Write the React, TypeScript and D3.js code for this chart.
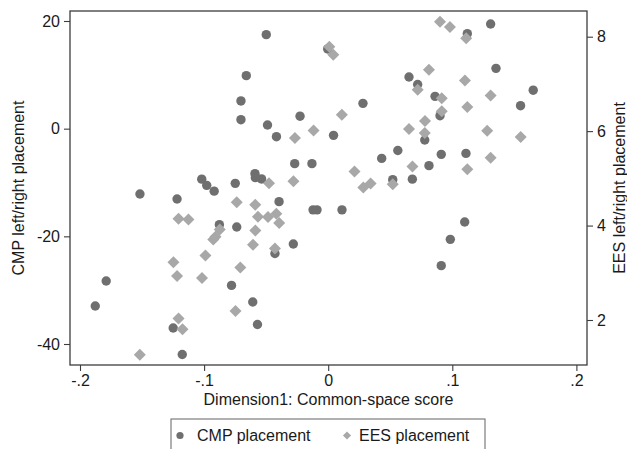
import { useEffect, useRef } from 'react';
import * as d3 from 'd3';

// CMP placements: common-space score and CMP left/right
const cmpScore = [
  -0.0499, -0.066, -0.0703, -0.0703, -0.0489, -0.0417, -0.0227, -0.027, -0.0131, -0.059,
  -0.0587, -0.0537, -0.0749, -0.1019, -0.0979, -0.0919, -0.1517, -0.1218, -0.0396, -0.0122,
  -0.009, 0.0111, -0.0877, -0.0737, -0.0429, -0.0281, -0.0779, -0.1789, -0.1877, -0.0608,
  -0.057, -0.1249, -0.1176, -0.0004, 0.1121, 0.1309, 0.1352, 0.0651, 0.0721, 0.1652,
  0.0861, 0.028, 0.155, 0.0901, 0.0043, 0.0778, 0.0431, 0.0561, 0.0911, 0.111,
  0.0812, 0.0678, 0.052, 0.11, 0.0984, 0.0911,
];
const cmpPlacement = [
  17.46, 9.85, 5.15, 1.67, 0.69, -1.49, 2.32, -6.5, -6.5, -8.36,
  -9.1, -9.34, -10.16, -9.38, -10.53, -11.61, -12.13, -13.06, -13.56, -15.08,
  -15.08, -15.08, -17.83, -18.26, -23.18, -21.42, -29.11, -28.29, -32.94, -32.19,
  -36.37, -37.02, -41.95, 14.81, 17.65, 19.45, 11.2, 9.6, 8.21, 7.15,
  6.0, 4.7, 4.27, 2.41, -1.24, -2.1, -5.52, -4.05, -4.77, -4.59,
  -6.87, -9.38, -9.47, -17.33, -20.56, -25.45,
];

// EES placements: common-space score and EES left/right
const eesScore = [
  0.0901, 0.0981, 0.1112, 0.0009, 0.0041, 0.0812, 0.1102, 0.0721, 0.1309, 0.0915,
  0.1121, 0.0915, 0.011, 0.078, 0.0651, 0.0778, 0.1281, 0.1551, -0.0118, -0.0268,
  0.1309, 0.0679, 0.1121, 0.0212, -0.028, -0.0477, 0.0283, 0.0342, 0.052, -0.0737,
  -0.0588, -0.1206, -0.1126, -0.0566, -0.0485, -0.0418, -0.0395, -0.0874, -0.0908, -0.0926,
  -0.0587, -0.0989, -0.0606, -0.0429, -0.1247, -0.1218, -0.1017, -0.0708, -0.0747, -0.1206,
  -0.1174, -0.1518,
];
const eesPlacement = [
  8.315, 8.205, 7.968, 7.786, 7.617, 7.3, 7.07, 6.877, 6.757, 6.698,
  6.51, 6.423, 6.349, 6.213, 6.044, 5.96, 6.006, 5.875, 6.011, 5.854,
  5.435, 5.249, 5.192, 5.144, 4.939, 4.896, 4.806, 4.89, 4.875, 4.495,
  4.442, 4.146, 4.129, 4.188, 4.182, 4.252, 4.055, 3.918, 3.761, 3.706,
  3.896, 3.364, 3.592, 3.516, 3.222, 2.93, 2.888, 3.11, 2.19, 2.032,
  1.806, 1.264,
];

const xTicks = [-0.2, -0.1, 0, 0.1, 0.2];
const leftTicks = [-40, -20, 0, 20];
const rightTicks = [2, 4, 6, 8];
const legendLabels = ['CMP placement', 'EES placement'];

const COLORS = {
  cmp: '#6f6f6f',
  ees: '#a8a8a8',
  axis: '#3c3c3c',
  text: '#1a1a1a',
  legendBorder: '#707070',
};

const FONT = '"Liberation Sans", Arial, Helvetica, sans-serif';
const W = 627;
const H = 449;

// Stata style: -.2, .1, plain hyphen for minus
const fmtX = (d: number) => (d === 0 ? '0' : String(d).replace('0.', '.'));

export default function App() {
  const svgRef = useRef<SVGSVGElement | null>(null);

  useEffect(() => {
    if (!svgRef.current) return;
    const svg = d3.select(svgRef.current);
    svg.selectAll('*').remove();

    const frame = { left: 70, right: 587, top: 11, bottom: 365 };

    const x = d3.scaleLinear().domain([-0.2, 0.2]).range([80, 576.4]);
    const yL = d3.scaleLinear().domain([-40, 20]).range([344, 21]);
    const yR = d3.scaleLinear().domain([2, 8]).range([320, 36.7]);

    // Plot region outline
    svg.append('rect')
      .attr('x', frame.left).attr('y', frame.top)
      .attr('width', frame.right - frame.left)
      .attr('height', frame.bottom - frame.top)
      .attr('fill', 'none')
      .attr('stroke', COLORS.axis)
      .attr('stroke-width', 1.3);

    const styleAxis = (g: d3.Selection<SVGGElement, unknown, null, undefined>) => {
      g.select('.domain').remove();
      g.selectAll('line').attr('stroke', COLORS.axis).attr('stroke-width', 1.1);
      g.selectAll('text')
        .style('font-family', FONT)
        .style('font-size', '16px')
        .style('fill', COLORS.text);
    };

    // Bottom axis
    const xAxis = svg.append('g')
      .attr('transform', `translate(0,${frame.bottom})`)
      .call(d3.axisBottom(x).tickValues(xTicks).tickFormat((d) => fmtX(+d)).tickSize(6).tickPadding(4));
    styleAxis(xAxis);

    // Left axis
    const leftAxis = svg.append('g')
      .attr('transform', `translate(${frame.left},0)`)
      .call(d3.axisLeft(yL).tickValues(leftTicks).tickFormat((d) => String(d)).tickSize(6).tickPadding(4));
    styleAxis(leftAxis);

    // Right axis
    const rightAxis = svg.append('g')
      .attr('transform', `translate(${frame.right},0)`)
      .call(d3.axisRight(yR).tickValues(rightTicks).tickFormat((d) => String(d)).tickSize(6).tickPadding(4));
    styleAxis(rightAxis);

    // Axis titles
    svg.append('text')
      .attr('x', (frame.left + frame.right) / 2).attr('y', 405)
      .attr('text-anchor', 'middle')
      .style('font-family', FONT).style('font-size', '16px').style('fill', COLORS.text)
      .text('Dimension1: Common-space score');

    svg.append('text')
      .attr('transform', `translate(24,${(frame.top + frame.bottom) / 2}) rotate(-90)`)
      .attr('text-anchor', 'middle')
      .style('font-family', FONT).style('font-size', '16px').style('fill', COLORS.text)
      .text('CMP left/right placement');

    svg.append('text')
      .attr('transform', `translate(625,${(frame.top + frame.bottom) / 2}) rotate(-90)`)
      .attr('text-anchor', 'middle')
      .style('font-family', FONT).style('font-size', '16px').style('fill', COLORS.text)
      .text('EES left/right placement');

    // CMP points
    const cmp = cmpScore.map((s, i) => ({ s, v: cmpPlacement[i] }));
    svg.append('g')
      .selectAll('circle')
      .data(cmp)
      .join('circle')
      .attr('cx', (d) => x(d.s))
      .attr('cy', (d) => yL(d.v))
      .attr('r', 4.7)
      .attr('fill', COLORS.cmp);

    // EES points (diamonds)
    const ees = eesScore.map((s, i) => ({ s, v: eesPlacement[i] }));
    const diamond = d3.symbol().type(d3.symbolDiamond2).size(92);
    svg.append('g')
      .selectAll('path')
      .data(ees)
      .join('path')
      .attr('transform', (d) => `translate(${x(d.s)},${yR(d.v)})`)
      .attr('d', diamond)
      .attr('fill', COLORS.ees);

    // Legend
    const lg = svg.append('g');
    lg.append('rect')
      .attr('x', 171).attr('y', 419)
      .attr('width', 314).attr('height', 40)
      .attr('fill', '#fff')
      .attr('stroke', COLORS.legendBorder)
      .attr('stroke-width', 1.1);

    lg.append('circle').attr('cx', 180).attr('cy', 435.5).attr('r', 3.6).attr('fill', COLORS.cmp);
    lg.append('path')
      .attr('transform', 'translate(347,435.5)')
      .attr('d', d3.symbol().type(d3.symbolDiamond2).size(42)())
      .attr('fill', COLORS.ees);

    [197, 359].forEach((lx, i) => {
      lg.append('text')
        .attr('x', lx).attr('y', 441)
        .style('font-family', FONT).style('font-size', '16px').style('fill', COLORS.text)
        .text(legendLabels[i]);
    });
  }, []);

  return (
    <svg
      ref={svgRef}
      width={W}
      height={H}
      style={{ position: 'absolute', left: 0, top: 0, background: '#fff' }}
    />
  );
}
